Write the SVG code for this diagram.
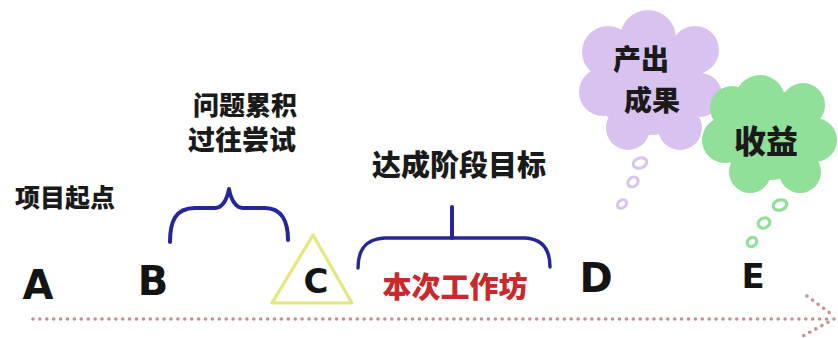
<svg xmlns="http://www.w3.org/2000/svg" width="838" height="338" viewBox="0 0 838 338">
  <style>
    .cjk { font-family: "Noto Sans CJK SC", "Noto Sans", sans-serif; font-weight: 900; text-anchor: middle; dominant-baseline: central; fill: #1a1a1a; }
    .letter { font-family: "DejaVu Sans", "Liberation Sans", sans-serif; font-weight: 700; text-anchor: middle; fill: #141414; }
    .brace { fill: none; stroke: #26269a; stroke-width: 4; stroke-linecap: round; stroke-linejoin: round; }
    .dots { fill: none; stroke: #c98d8d; stroke-width: 3.6; stroke-linecap: round; stroke-dasharray: 0 6.9; }
    .purple { fill: #d8c3f0; }
    .green { fill: #90e09a; }
    .bubble-p { fill: #ffffff; stroke: #d8c3f0; stroke-width: 3; }
    .bubble-g { fill: #ffffff; stroke: #90e09a; stroke-width: 3.2; }
  </style>
  <rect width="838" height="338" fill="#ffffff"/>

  <!-- timeline arrow -->
  <g id="connectors">
    <path class="dots" d="M33,319 L832,319"/>
    <path class="dots" d="M807,296 L834,316"/>
    <path class="dots" d="M834,319 L801,337"/>
  </g>

  <!-- milestone A: project start -->
  <g id="node-a">
    <text class="cjk" x="65" y="196" font-size="25">项目起点</text>
    <text class="letter" x="38" y="299" font-size="40">A</text>
  </g>

  <!-- milestone B: accumulated issues, past attempts -->
  <g id="node-b">
    <text class="cjk" x="245" y="103" font-size="26">问题累积</text>
    <text class="cjk" x="242" y="138" font-size="27">过往尝试</text>
    <path class="brace" d="M170,242 C170,222 175,208 195,208 L215,208 C222,208 227,200 229,189 C231,200 236,208 243,208 L265,208 C282,208 288,222 288,240"/>
    <text class="letter" x="153" y="295" font-size="40">B</text>
  </g>

  <!-- milestone C: this workshop -->
  <g id="node-c">
    <polygon points="313,235 272,303 352,303" fill="none" stroke="#e6e67e" stroke-width="3.2" stroke-linejoin="round"/>
    <text class="letter" x="316" y="293" font-size="34">C</text>
  </g>

  <!-- stage goal -->
  <g id="node-goal">
    <text class="cjk" x="459" y="163" font-size="29">达成阶段目标</text>
    <path class="brace" d="M452,207 L452,238"/>
    <path class="brace" style="stroke-width:3.4" d="M358,268 C358,250 365,239 385,238 L525,238 C545,239 550,252 550,267"/>
    <text class="cjk" x="455" y="285" font-size="29" style="fill:#c9282c">本次工作坊</text>
  </g>

  <!-- milestone D: deliverables -->
  <g id="node-d">
    <g class="purple">
      <ellipse cx="650" cy="85" rx="55" ry="50"/>
      <circle cx="648" cy="38" r="28"/>
      <circle cx="695" cy="50" r="24"/>
      <circle cx="700" cy="95" r="22"/>
      <circle cx="680" cy="128" r="22"/>
      <circle cx="628" cy="128" r="22"/>
      <circle cx="603" cy="92" r="24"/>
      <circle cx="608" cy="52" r="26"/>
    </g>
    <text class="cjk" x="641" y="58" font-size="28">产出</text>
    <text class="cjk" x="652" y="99" font-size="28">成果</text>
    <ellipse class="bubble-p" cx="640" cy="163" rx="7" ry="5" transform="rotate(-20 640 163)"/>
    <ellipse class="bubble-p" cx="633" cy="182" rx="5.5" ry="4.5" transform="rotate(-40 633 182)"/>
    <ellipse class="bubble-p" cx="622" cy="204" rx="5" ry="3.8" transform="rotate(-40 622 204)"/>
    <text class="letter" x="596" y="292" font-size="40">D</text>
  </g>

  <!-- milestone E: benefits -->
  <g id="node-e">
    <g class="green">
      <ellipse cx="770" cy="135" rx="50" ry="45"/>
      <circle cx="760" cy="100" r="25"/>
      <circle cx="803" cy="105" r="22"/>
      <circle cx="815" cy="140" r="22"/>
      <circle cx="800" cy="172" r="21"/>
      <circle cx="750" cy="172" r="21"/>
      <circle cx="725" cy="140" r="23"/>
      <circle cx="732" cy="108" r="22"/>
    </g>
    <text class="cjk" x="766" y="139" font-size="32">收益</text>
    <ellipse class="bubble-g" cx="780" cy="205" rx="7" ry="5" transform="rotate(-15 780 205)"/>
    <ellipse class="bubble-g" cx="764" cy="223" rx="6" ry="4.8" transform="rotate(-25 764 223)"/>
    <ellipse class="bubble-g" cx="752" cy="242" rx="5" ry="4.2" transform="rotate(-40 752 242)"/>
    <text class="letter" x="753" y="288" font-size="34">E</text>
  </g>
</svg>
